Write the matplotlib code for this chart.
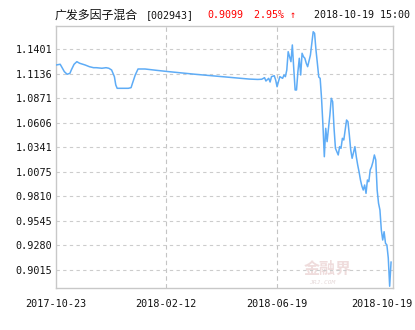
import matplotlib.pyplot as plt
from matplotlib.transforms import ScaledTranslation

# trading-day index and net asset value
days = [0, 3, 4, 6, 8, 10, 11, 13, 15, 17, 21, 24, 27, 29, 33, 36, 38, 40, 42, 43,
        44, 47, 52, 54, 55, 57, 59, 64, 72, 80, 100, 118, 130, 139, 145, 148, 150, 151, 153, 154,
        155, 157, 158, 159, 160, 161, 163, 164, 165, 166, 167, 168, 169, 170, 171, 172, 173, 174, 175, 176,
        177, 178, 179, 180, 181, 183, 184, 185, 186, 187, 188, 189, 190, 191, 192, 193, 194, 195, 197, 198,
        199, 200, 201, 203, 204, 205, 206, 207, 209, 210, 211, 212, 213, 215, 216, 217, 218, 219, 220, 221,
        222, 223, 224, 225, 226, 227, 228, 229, 230, 231, 232, 233, 234, 235, 236, 237, 238, 239, 240, 241]
nav = [1.1231, 1.1239, 1.1213, 1.1159, 1.1131, 1.1141, 1.1177, 1.1239, 1.1267, 1.1250,
       1.1231, 1.1213, 1.1202, 1.1202, 1.1196, 1.1202, 1.1196, 1.1177, 1.1105, 1.1015,
       1.0979, 1.0979, 1.0979, 1.0986, 1.1033, 1.1123, 1.1188, 1.1188, 1.1174, 1.1161,
       1.1131, 1.1107, 1.1091, 1.1079, 1.1075, 1.1077, 1.1094, 1.1058, 1.1087, 1.1047,
       1.1105, 1.1115, 1.1069, 1.0996, 1.1051, 1.1105, 1.1087, 1.1123, 1.1105, 1.1177,
       1.1375, 1.1321, 1.1267, 1.1448, 1.1196, 1.0961, 1.0961, 1.1159, 1.1304, 1.1123,
       1.1358, 1.1321, 1.1304, 1.1250, 1.1213, 1.1339, 1.1466, 1.1591, 1.1574, 1.1393,
       1.1250, 1.1101, 1.1087, 1.0871, 1.0582, 1.0239, 1.0546, 1.0402, 1.0690, 1.0871,
       1.0834, 1.0546, 1.0330, 1.0258, 1.0348, 1.0330, 1.0438, 1.0420, 1.0636, 1.0618,
       1.0474, 1.0312, 1.0222, 1.0348, 1.0239, 1.0150, 1.0074, 0.9987, 0.9922, 0.9879,
       0.9933, 0.9843, 0.9987, 0.9969, 1.0096, 1.0131, 1.0185, 1.0258, 1.0204, 0.9879,
       0.9735, 0.9663, 0.9447, 0.9338, 0.9428, 0.9303, 0.9284, 0.9144, 0.8838, 0.9099]

tick_days = [0, 79, 159, 241]
tick_dates = ['2017-10-23', '2018-02-12', '2018-06-19', '2018-10-19']
nav_ticks = [0.9015, 0.9280, 0.9545, 0.9810, 1.0075, 1.0341, 1.0606, 1.0871, 1.1136, 1.1401]

fund_name = '广发多因子混合'
fund_code = '[002943]'
last_nav = '0.9099'
last_change = '2.95% ↑'
stamp = '2018-10-19 15:00'

mono = ['DejaVu Sans Mono', 'DejaVu Sans']
cjk = ['Noto Sans CJK SC', 'DejaVu Sans']

fig = plt.figure(figsize=(4.15, 3.3), dpi=100)
ax = fig.add_axes([56 / 415, 1 - 288 / 330, 337 / 415, 262 / 330])

# faint watermark behind the line
ax.text(0.805, 0.075, '金融界', transform=ax.transAxes, family=cjk, fontsize=11.5,
        fontweight='bold', color='#efdcdc', ha='center', va='center', zorder=0)
ax.text(0.79, 0.02, 'JRJ.COM', transform=ax.transAxes, family=mono, fontsize=4.5,
        fontstyle='italic', color='#e6dada', ha='center', va='center', zorder=0)

ax.plot(days, nav, color='#5eacf6', lw=1.1, zorder=3)

ax.set_xlim(0, 242.4)
ax.set_ylim(0.8819, 1.1653)
ax.set_xticks(tick_days)
ax.set_xticklabels(tick_dates)
ax.set_yticks(nav_ticks)
ax.set_yticklabels(['%.4f' % v for v in nav_ticks])

for lab in ax.get_xticklabels() + ax.get_yticklabels():
    lab.set_family(mono)
    lab.set_fontsize(7.3)
    lab.set_color('#111111')
ax.tick_params(axis='both', length=0)
ax.tick_params(axis='x', pad=8)
ax.tick_params(axis='y', pad=2.5)

# last date label is pulled left so it stays inside the image
last = ax.get_xticklabels()[-1]
last.set_transform(last.get_transform() + ScaledTranslation(-0.095, 0, fig.dpi_scale_trans))

ax.grid(axis='y', color='#cccccc', lw=0.8, linestyle=(0, (3, 3)))
for d in tick_days[1:3]:
    ax.axvline(d, color='#c4c4c4', lw=0.8, linestyle=(0, (4, 3)), zorder=1)
for s in ax.spines.values():
    s.set_color('#c8c8c8')
    s.set_linewidth(1)

ty = 1 - 15 / 330
fig.text(55 / 415, ty, fund_name, family=cjk, fontsize=8.6, va='center', color='#111111')
fig.text(146 / 415, ty, fund_code, family=mono, fontsize=7.2, va='center', color='#111111')
fig.text(207 / 415, ty, last_nav, family=mono, fontsize=7.2, va='center', color='#ff0000')
fig.text(254 / 415, ty, last_change, family=mono, fontsize=7.2, va='center', color='#ff0000')
fig.text(314 / 415, ty, stamp, family=mono, fontsize=7.2, va='center', color='#111111')

fig.savefig('out.png', dpi=100)
